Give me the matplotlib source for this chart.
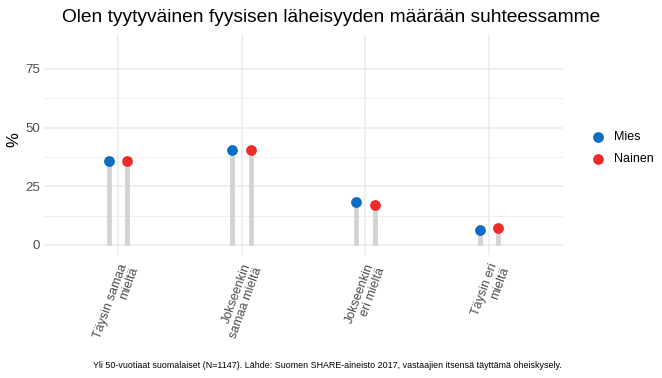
import matplotlib.pyplot as plt
import numpy as np

plt.rcParams['font.family'] = ['Liberation Sans', 'DejaVu Sans']

# data
categories = ['Täysin samaa\nmieltä', 'Jokseenkin\nsamaa mieltä',
              'Jokseenkin\neri mieltä', 'Täysin eri\nmieltä']
mies = [35.8, 40.6, 18.1, 6.3]
nainen = [35.7, 40.5, 16.9, 7.3]
yticks = [0, 25, 50, 75]

blue = '#0a6fc2'
red = '#ee2b2b'
grid_col = '#ebebeb'

fig = plt.figure(figsize=(6.62, 3.78), dpi=100)
ax = fig.add_axes([44 / 662, 1 - 255 / 378, (563 - 44) / 662, (255 - 35) / 378])

x = np.arange(len(categories))
off = 0.075

ax.set_xlim(-0.6, len(categories) - 0.4)
ax.set_ylim(-4.3, 89.4)

# grid
for yv in [12.5, 37.5, 62.5]:
    ax.axhline(yv, color=grid_col, linewidth=0.6, zorder=0)
for yv in yticks:
    ax.axhline(yv, color=grid_col, linewidth=1.1, zorder=0)
for xv in x:
    ax.axvline(xv, color=grid_col, linewidth=1.1, zorder=0)

# lollipop stems and dots
ax.vlines(x - off, 0, mies, color='#d3d3d3', linewidth=3.5, zorder=1)
ax.vlines(x + off, 0, nainen, color='#d3d3d3', linewidth=3.5, zorder=1)
ax.scatter(x - off, mies, s=60, color=blue, zorder=3, linewidths=0, label='Mies')
ax.scatter(x + off, nainen, s=60, color=red, zorder=3, linewidths=0, label='Nainen')

for s in ax.spines.values():
    s.set_visible(False)

ax.set_yticks(yticks)
ax.set_yticklabels([str(v) for v in yticks], fontsize=9.5, color='#4d4d4d')
ax.set_xticks(x)
ax.set_xticklabels(categories, rotation=70, ha='right', va='top',
                   rotation_mode='anchor', fontsize=9, color='#4d4d4d',
                   linespacing=0.95)
ax.tick_params(axis='y', length=0, pad=3)
ax.tick_params(axis='x', length=0, pad=5)

fig.text(14 / 662, 1 - 140 / 378, '%', rotation=90, ha='center', va='center',
         fontsize=12)

fig.text(331 / 662, 1 - 17 / 378, 'Olen tyytyväinen fyysisen läheisyyden määrään suhteessamme',
         ha='center', va='center', fontsize=13.8)

fig.text(562 / 662, 1 - 365 / 378,
         'Yli 50-vuotiaat suomalaiset (N=1147). Lähde: Suomen SHARE-aineisto 2017, '
         'vastaajien itsensä täyttämä oheiskysely.',
         ha='right', va='center', fontsize=6.4)

fig.legend(loc='upper left', bbox_to_anchor=(574 / 662, 1 - 120 / 378),
           frameon=False, fontsize=9, handletextpad=0.3, labelspacing=0.8,
           markerscale=1.0)

fig.savefig('out.png', dpi=100, facecolor='white')
